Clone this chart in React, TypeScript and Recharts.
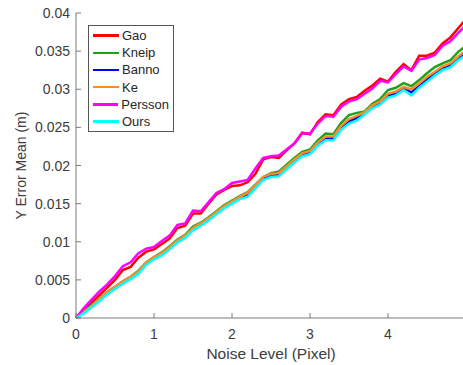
import React from 'react';
import { LineChart, Line, XAxis, YAxis } from 'recharts';

const noiseLevels = [
  0, 0.1, 0.2, 0.3, 0.4, 0.5, 0.6, 0.7, 0.8, 0.9,
  1, 1.1, 1.2, 1.3, 1.4, 1.5, 1.6, 1.7, 1.8, 1.9,
  2, 2.1, 2.2, 2.3, 2.4, 2.5, 2.6, 2.7, 2.8, 2.9,
  3, 3.1, 3.2, 3.3, 3.4, 3.5, 3.6, 3.7, 3.8, 3.9,
  4, 4.1, 4.2, 4.3, 4.4, 4.5, 4.6, 4.7, 4.8, 4.9, 5,
];

const gao = [
  0, 0.001, 0.002, 0.003, 0.004, 0.005, 0.0063, 0.0067, 0.0079, 0.0087,
  0.009, 0.0097, 0.0104, 0.0118, 0.0121, 0.0137, 0.0137, 0.015, 0.0162, 0.0168,
  0.0173, 0.0174, 0.0178, 0.0189, 0.0208, 0.0211, 0.021, 0.022, 0.0229, 0.0243,
  0.0241, 0.0257, 0.0267, 0.0266, 0.028, 0.0287, 0.029, 0.0298, 0.0305, 0.0314,
  0.031, 0.0323, 0.0333, 0.0325, 0.0344, 0.0344, 0.0348, 0.036, 0.0368, 0.038, 0.0392,
];

const kneip = [
  0, 0.0009, 0.0017, 0.0025, 0.0034, 0.0041, 0.0048, 0.0054, 0.0062, 0.0073,
  0.008, 0.0086, 0.0094, 0.0103, 0.0109, 0.012, 0.0125, 0.0132, 0.014, 0.0148,
  0.0154, 0.016, 0.0165, 0.0175, 0.0185, 0.019, 0.0192, 0.0201, 0.021, 0.0218,
  0.0221, 0.0233, 0.0242, 0.0241, 0.0256, 0.0266, 0.0269, 0.0271, 0.0281, 0.0287,
  0.0299, 0.0302, 0.0308, 0.0304, 0.0312, 0.0321, 0.0329, 0.0334, 0.0338, 0.0349, 0.0357,
];

const banno = [
  0, 0.0008, 0.0016, 0.0024, 0.0033, 0.004, 0.0047, 0.0053, 0.006, 0.0072,
  0.0079, 0.0084, 0.0092, 0.0101, 0.0107, 0.0117, 0.0123, 0.013, 0.0138, 0.0146,
  0.0152, 0.0158, 0.0162, 0.0172, 0.0183, 0.0187, 0.0188, 0.0198, 0.0206, 0.0214,
  0.0217, 0.0228, 0.0236, 0.0236, 0.025, 0.0258, 0.0262, 0.0269, 0.0277, 0.0282,
  0.0291, 0.0295, 0.0301, 0.0296, 0.0304, 0.0313, 0.0321, 0.0327, 0.0331, 0.0341, 0.0348,
];

const ke = [
  0, 0.0008, 0.0016, 0.0025, 0.0034, 0.0041, 0.0048, 0.0054, 0.0061, 0.0073,
  0.008, 0.0085, 0.0093, 0.0102, 0.0108, 0.0118, 0.0124, 0.0131, 0.0139, 0.0147,
  0.0153, 0.0159, 0.0164, 0.0174, 0.0185, 0.0189, 0.019, 0.0199, 0.0208, 0.0216,
  0.0219, 0.023, 0.0238, 0.0238, 0.0252, 0.0261, 0.0265, 0.027, 0.0279, 0.0284,
  0.0294, 0.0297, 0.0303, 0.03, 0.0308, 0.0316, 0.0323, 0.033, 0.0334, 0.0343, 0.0351,
];

const persson = [
  0, 0.0013, 0.0024, 0.0035, 0.0044, 0.0055, 0.0068, 0.0073, 0.0085, 0.0091,
  0.0093, 0.0101, 0.0108, 0.0122, 0.0124, 0.0141, 0.014, 0.0152, 0.0164, 0.0169,
  0.0177, 0.0179, 0.0181, 0.0196, 0.021, 0.0212, 0.0213, 0.0221, 0.0229, 0.0242,
  0.0242, 0.0255, 0.0265, 0.0264, 0.0277, 0.0284, 0.0287, 0.0294, 0.0301, 0.0311,
  0.0309, 0.032, 0.033, 0.0324, 0.0339, 0.0341, 0.0345, 0.0357, 0.0363, 0.0374, 0.0384,
];

const ours = [
  0, 0.0006, 0.0014, 0.0022, 0.0031, 0.0038, 0.0045, 0.0051, 0.0058, 0.007,
  0.0077, 0.0082, 0.009, 0.0099, 0.0105, 0.0115, 0.0121, 0.0128, 0.0136, 0.0144,
  0.015, 0.0156, 0.0159, 0.017, 0.0181, 0.0185, 0.0186, 0.0195, 0.0204, 0.0212,
  0.0215, 0.0226, 0.0233, 0.0233, 0.0247, 0.0255, 0.0259, 0.0267, 0.0275, 0.028,
  0.0289, 0.0292, 0.0299, 0.0292, 0.0302, 0.031, 0.0318, 0.0325, 0.0329, 0.0338, 0.0345,
];

const xTicks = [0, 1, 2, 3, 4, 5];
const yTicks = [0, 0.005, 0.01, 0.015, 0.02, 0.025, 0.03, 0.035, 0.04];

const series = [
  { key: 'Gao', values: gao, color: '#ff0000' },
  { key: 'Kneip', values: kneip, color: '#1ca31c' },
  { key: 'Banno', values: banno, color: '#0000ff' },
  { key: 'Ke', values: ke, color: '#ff8a26' },
  { key: 'Persson', values: persson, color: '#ff00ff' },
  { key: 'Ours', values: ours, color: '#00ffff' },
];

const data = noiseLevels.map((x, i) => {
  const row: Record<string, number> = { x };
  series.forEach((s) => { row[s.key] = s.values[i]; });
  return row;
});

const FONT = '"Liberation Sans", Arial, sans-serif';
const TEXT = '#3c3c3c';
const AXIS = '#7a7a7a';
const TICK_LEN = 5;

const fmtY = (v: number) => String(Number(v.toFixed(3)));

// MATLAB style: ticks point inward
const BottomTick = (props: any) => {
  const { x, y, payload } = props;
  const axisY = y - 6;
  return (
    <g>
      <line x1={x} x2={x} y1={axisY} y2={axisY - TICK_LEN} stroke={AXIS} />
      {payload.value < 5 && (
        <text x={x} y={axisY + 21} textAnchor="middle" fontSize={14} fill={TEXT} fontFamily={FONT}>
          {payload.value}
        </text>
      )}
    </g>
  );
};

const TopTick = (props: any) => {
  const { x, y } = props;
  const axisY = y + 6;
  return <line x1={x} x2={x} y1={axisY} y2={axisY + TICK_LEN} stroke={AXIS} />;
};

const LeftTick = (props: any) => {
  const { x, y, payload } = props;
  const axisX = x + 6;
  return (
    <g>
      <line x1={axisX} x2={axisX + TICK_LEN} y1={y} y2={y} stroke={AXIS} />
      <text x={axisX - 6} y={y + 5} textAnchor="end" fontSize={14} fill={TEXT} fontFamily={FONT}>
        {fmtY(payload.value)}
      </text>
    </g>
  );
};

const RightTick = (props: any) => {
  const { x, y } = props;
  const axisX = x - 6;
  return <line x1={axisX} x2={axisX - TICK_LEN} y1={y} y2={y} stroke={AXIS} />;
};

const LegendBox = () => (
  <div
    style={{
      position: 'absolute',
      left: 88,
      top: 25,
      border: '1px solid #555',
      background: '#fff',
      padding: '1px 4px 1px 4px',
      fontFamily: FONT,
      fontSize: 13,
      color: '#262626',
      width: 86,
      boxSizing: 'border-box',
    }}
  >
    {series.map((s) => (
      <div key={s.key} style={{ display: 'flex', alignItems: 'center', height: 17.2 }}>
        <span style={{ display: 'inline-block', width: 26, height: 2.5, background: s.color, marginRight: 3 }} />
        <span>{s.key}</span>
      </div>
    ))}
  </div>
);

export default function App() {
  return (
    <div style={{ position: 'absolute', left: 0, top: 0, width: 463, height: 365, overflow: 'hidden', background: '#fff' }}>
      <LineChart width={480} height={365} data={data} margin={{ top: 13, right: 14, bottom: 0, left: 0 }}>
        <XAxis
          dataKey="x"
          type="number"
          domain={[0, 5]}
          ticks={xTicks}
          tickSize={0}
          tickMargin={6}
          tickLine={false}
          tick={BottomTick}
          stroke={AXIS}
          height={47}
          label={{ value: 'Noise Level (Pixel)', position: 'insideBottom', offset: 6, fontSize: 15.5, fill: TEXT, fontFamily: FONT }}
        />
        <XAxis
          xAxisId="top"
          orientation="top"
          dataKey="x"
          type="number"
          domain={[0, 5]}
          ticks={xTicks}
          tickSize={0}
          tickMargin={6}
          tickLine={false}
          tick={TopTick}
          stroke="#3f3f3f"
          height={0}
        />
        <YAxis
          type="number"
          domain={[0, 0.04]}
          ticks={yTicks}
          tickSize={0}
          tickMargin={6}
          tickLine={false}
          tick={LeftTick}
          stroke={AXIS}
          width={76}
          label={{ value: 'Y Error Mean (m)', angle: -90, position: 'insideLeft', offset: 0, dx: 21, fontSize: 14, fill: TEXT, fontFamily: FONT, style: { textAnchor: 'middle' } }}
        />
        <YAxis
          yAxisId="right"
          orientation="right"
          type="number"
          domain={[0, 0.04]}
          ticks={yTicks}
          tickSize={0}
          tickMargin={6}
          tickLine={false}
          tick={RightTick}
          stroke={AXIS}
          width={0}
        />
        {series.map((s) => (
          <Line
            key={s.key}
            type="linear"
            dataKey={s.key}
            stroke={s.color}
            strokeWidth={2.5}
            dot={false}
            isAnimationActive={false}
          />
        ))}
      </LineChart>
      <LegendBox />
    </div>
  );
}
